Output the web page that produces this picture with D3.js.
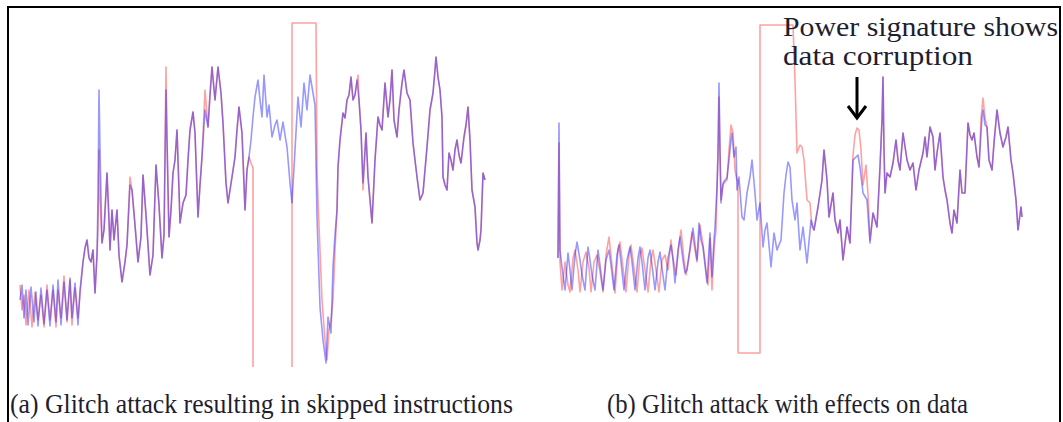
<!DOCTYPE html>
<html><head><meta charset="utf-8">
<script src="https://cdn.jsdelivr.net/npm/d3@7"></script>
<style>body{margin:0;background:#fff}svg{display:block}</style>
</head><body><svg id="c" width="1063" height="422"></svg>
<script>
// time (arbitrary sample units), power (arbitrary units)
const blueA = [[0,68],[2,83],[4,50],[6,78],[8,43],[11,81],[14,46],[16,76],[18,42],[21,80],[24,44],[27,78],[30,42],[33,83],[36,46],[38,88],[41,43],[44,86],[47,48],[50,90],[52,50],[55,85],[58,43],[60,78],[63,106],[65,120],[67,128],[69,110],[71,106],[73,118],[75,75],[77,113],[78,168],[79,278],[80,218],[82,125],[84,138],[87,195],[89,148],[90,118],[92,158],[94,128],[97,158],[99,113],[102,86],[105,106],[107,123],[110,183],[112,178],[115,143],[118,106],[121,131],[123,193],[126,153],[128,123],[130,93],[133,113],[136,203],[139,163],[142,110],[144,133],[146,278],[147,228],[149,131],[151,158],[153,195],[155,208],[157,238],[159,178],[160,145],[163,165],[166,173],[168,208],[170,238],[173,256],[175,235],[178,151],[180,183],[182,211],[185,258],[188,241],[190,273],[192,301],[195,268],[198,301],[201,275],[203,245],[206,185],[208,165],[210,178],[212,191],[215,211],[217,238],[219,261],[222,235],[225,158],[227,198],[229,211],[231,228],[233,251],[235,271],[238,288],[240,268],[242,251],[244,293],[247,251],[249,263],[252,231],[255,243],[257,248],[260,228],[263,246],[265,233],[267,221],[270,185],[272,165],[275,218],[278,271],[281,241],[284,285],[287,258],[290,293],[293,275],[295,263],[297,151],[300,61],[303,28],[306,5],[308,51],[311,35],[313,101],[315,133],[317,158],[318,201],[320,228],[323,255],[325,250],[327,268],[329,273],[331,291],[333,268],[335,273],[337,288],[339,268],[341,238],[343,185],[346,235],[348,191],[350,168],[352,145],[355,208],[358,251],[360,243],[362,238],[365,285],[368,251],[370,268],[372,298],[374,248],[377,231],[379,258],[382,285],[384,298],[387,275],[390,268],[393,225],[395,208],[397,191],[400,168],[403,175],[405,198],[407,221],[410,258],[413,275],[415,298],[416,311],[418,291],[420,278],[422,251],[423,191],[425,183],[427,178],[429,215],[431,208],[433,198],[435,218],[437,228],[439,213],[441,205],[444,231],[446,243],[448,261],[450,228],[452,178],[455,161],[457,125],[458,118],[460,128],[461,138],[463,195],[465,188]];

const redA = [[0,83],[2,58],[4,73],[6,43],[9,78],[12,41],[15,76],[18,48],[21,73],[24,41],[27,83],[30,48],[33,78],[36,41],[38,78],[41,50],[44,92],[47,46],[50,88],[52,43],[55,80],[58,50],[60,73],[63,106],[65,120],[67,128],[69,110],[71,106],[73,118],[75,75],[77,113],[78,138],[79,218],[80,168],[82,125],[84,138],[87,195],[89,148],[90,118],[92,158],[94,128],[97,158],[99,113],[102,86],[105,106],[107,123],[110,191],[112,178],[115,143],[118,106],[121,131],[123,193],[126,153],[128,123],[130,93],[133,113],[136,203],[139,163],[142,110],[144,133],[146,301],[147,228],[149,131],[151,158],[153,195],[155,208],[157,238],[159,178],[160,145],[163,165],[166,173],[168,208],[170,238],[173,256],[175,235],[178,151],[180,183],[182,211],[185,278],[188,241],[190,273],[192,301],[195,268],[198,301],[201,275],[203,245],[206,185],[208,165],[210,178],[212,191],[215,211],[217,238],[219,261],[222,235],[225,158],[227,198],[229,211],[231,205],[233,200],[233,-10],[272,-10],[272,345],[296,345],[297,200],[298,168],[300,118],[302,68],[305,28],[307,8],[309,38],[311,48],[313,68],[315,118],[317,158],[318,201],[320,228],[323,255],[325,250],[327,268],[329,273],[331,291],[333,268],[335,273],[338,293],[339,268],[341,238],[343,178],[346,235],[348,191],[350,168],[352,145],[355,208],[358,251],[360,243],[362,238],[365,285],[368,251],[370,268],[372,298],[374,248],[377,231],[379,258],[382,285],[384,298],[387,275],[390,268],[393,225],[395,208],[397,191],[400,168],[403,175],[405,198],[407,221],[410,258],[413,275],[415,298],[416,311],[418,291],[420,278],[422,251],[423,191],[425,183],[427,178],[429,215],[431,208],[433,198],[435,218],[437,228],[439,213],[441,205],[444,231],[446,243],[448,261],[450,228],[452,178],[455,161],[457,125],[458,118],[460,128],[461,138],[463,195],[465,188]];

const blueB = [[0,96],[1,231],[2,104],[4,87],[7,64],[10,101],[12,84],[14,64],[17,99],[19,112],[22,94],[24,79],[27,64],[30,107],[32,94],[34,79],[37,64],[40,104],[42,89],[45,64],[48,94],[51,104],[53,89],[56,64],[59,99],[61,109],[63,92],[66,64],[69,94],[72,107],[74,92],[77,64],[80,96],[82,107],[84,92],[87,64],[90,96],[92,104],[94,89],[97,64],[100,92],[102,102],[104,86],[107,64],[110,96],[113,109],[115,94],[117,71],[120,104],[122,117],[125,94],[127,81],[129,84],[132,104],[135,126],[137,109],[139,94],[141,131],[143,114],[145,107],[147,89],[149,71],[151,104],[152,121],[154,77],[156,114],[157,127],[159,167],[160,204],[161,271],[162,204],[163,151],[165,171],[167,174],[169,176],[171,194],[173,214],[174,221],[176,197],[178,207],[179,164],[181,177],[184,137],[186,134],[189,161],[192,177],[194,194],[197,161],[199,134],[202,151],[205,107],[207,124],[209,131],[211,109],[213,87],[216,121],[219,104],[223,114],[226,161],[228,179],[230,192],[232,187],[234,154],[237,134],[239,151],[242,104],[245,127],[249,91],[253,134],[256,124],[260,147],[264,174],[266,204],[269,174],[271,137],[275,161],[277,134],[280,121],[282,134],[285,94],[289,127],[292,111],[295,194],[298,197],[300,199],[302,187],[305,161],[309,154],[312,111],[315,141],[319,127],[322,187],[324,234],[325,277],[326,204],[327,161],[329,181],[332,177],[335,191],[338,214],[340,194],[342,184],[345,221],[349,194],[352,184],[355,191],[358,164],[361,184],[365,201],[367,217],[369,197],[372,227],[375,217],[377,184],[379,201],[382,221],[385,177],[387,164],[389,154],[392,131],[394,121],[396,144],[399,131],[402,184],[404,161],[407,161],[410,231],[412,219],[414,214],[416,221],[419,197],[421,187],[424,237],[425,244],[427,229],[429,227],[431,194],[434,184],[436,211],[439,244],[442,221],[445,207],[448,217],[450,227],[453,194],[455,181],[458,154],[460,124],[463,147],[464,137]];

const redB = [[0,96],[1,211],[2,92],[4,64],[7,92],[10,69],[12,62],[15,96],[17,104],[20,84],[22,62],[25,92],[28,102],[31,86],[33,62],[36,92],[39,99],[42,82],[45,62],[48,99],[51,117],[54,89],[57,61],[60,104],[62,112],[65,86],[68,62],[71,99],[73,109],[76,86],[79,62],[82,99],[84,106],[87,84],[90,62],[93,94],[95,104],[98,84],[101,62],[104,94],[107,99],[110,84],[113,114],[115,96],[118,79],[121,109],[123,124],[126,94],[128,79],[131,99],[134,122],[137,104],[139,92],[142,129],[145,109],[148,84],[150,69],[152,116],[154,64],[156,104],[158,124],[159,164],[160,194],[161,257],[162,199],[163,154],[165,169],[167,172],[169,174],[171,204],[173,229],[175,221],[177,184],[179,174],[180,174],[180,1],[202,1],[202,329],[235,329],[237,274],[239,201],[242,209],[244,207],[246,194],[249,154],[252,151],[254,127],[256,124],[260,147],[264,174],[266,204],[269,174],[271,137],[275,161],[277,134],[280,121],[282,134],[285,94],[289,127],[292,111],[295,199],[297,219],[299,226],[301,224],[303,204],[305,169],[308,189],[310,159],[312,114],[315,141],[319,127],[322,187],[324,234],[325,277],[326,204],[327,161],[329,181],[332,177],[335,191],[338,214],[340,194],[342,184],[345,221],[349,194],[352,184],[355,191],[358,164],[361,184],[365,201],[367,217],[369,197],[372,227],[375,217],[377,184],[379,201],[382,221],[385,177],[387,164],[389,154],[392,131],[394,121],[396,144],[399,131],[402,184],[404,161],[407,161],[410,231],[412,219],[414,214],[416,221],[419,197],[421,187],[423,235],[425,256],[427,236],[429,227],[431,194],[434,184],[436,211],[439,244],[442,221],[445,207],[448,217],[450,227],[453,194],[455,181],[458,154],[460,124],[463,147],[464,137]];

const captions = ["(a) Glitch attack resulting in skipped instructions", "(b) Glitch attack with effects on data"];
const annotation = ["Power signature shows", "data corruption"];
const corruptionTime = 299;

const svg = d3.select("#c");
const xA = d3.scaleLinear().domain([0,465]).range([20,485]);
const yA = d3.scaleLinear().domain([0,345]).range([368,23]);
const xB = d3.scaleLinear().domain([0,464]).range([558,1022]);
const yB = d3.scaleLinear().domain([0,330]).range([354,24]);

const defs = svg.append("defs");
defs.append("clipPath").attr("id","clipA").append("rect").attr("x",10).attr("y",10).attr("width",520).attr("height",357);
defs.append("clipPath").attr("id","clipB").append("rect").attr("x",540).attr("y",10).attr("width",515).attr("height",350);

function draw(clip, x, y, red, blue){
  const g = svg.append("g").attr("clip-path", `url(#${clip})`);
  const line = d3.line().x(d=>x(d[0])).y(d=>y(d[1]));
  g.append("path").datum(red).attr("d", line).attr("fill","none")
    .attr("stroke","#ff2020").attr("stroke-opacity",0.42).attr("stroke-width",1.6).attr("stroke-linejoin","round");
  g.append("path").datum(blue).attr("d", line).attr("fill","none")
    .attr("stroke","#1a1aff").attr("stroke-opacity",0.45).attr("stroke-width",1.6).attr("stroke-linejoin","round");
}
draw("clipA", xA, yA, redA, blueA);
draw("clipB", xB, yB, redB, blueB);

// frame
svg.append("path").attr("d","M8,422 L8,7 L1060,7 L1060,422").attr("fill","none").attr("stroke","#000").attr("stroke-width",2);

const serif = "'Liberation Serif', 'DejaVu Serif', serif";
svg.append("text").attr("x",10).attr("y",413).attr("font-family",serif).attr("font-size",28)
  .attr("fill","#1e1e30").attr("textLength",503).attr("lengthAdjust","spacingAndGlyphs").text(captions[0]);
svg.append("text").attr("x",607).attr("y",413).attr("font-family",serif).attr("font-size",28)
  .attr("fill","#1e1e30").attr("textLength",361).attr("lengthAdjust","spacingAndGlyphs").text(captions[1]);

svg.append("text").attr("x",783).attr("y",36).attr("font-family",serif).attr("font-size",28)
  .attr("fill","#1e1e30").attr("textLength",275).attr("lengthAdjust","spacingAndGlyphs").text(annotation[0]);
svg.append("text").attr("x",783).attr("y",65).attr("font-family",serif).attr("font-size",28)
  .attr("fill","#1e1e30").attr("textLength",190).attr("lengthAdjust","spacingAndGlyphs").text(annotation[1]);

// arrow pointing at corrupted peak
const ax = xB(corruptionTime);
const peak = redB.find(d=>d[0]===corruptionTime)[1];
const tipY = yB(peak) - 10;
svg.append("line").attr("x1",ax).attr("x2",ax).attr("y1",77).attr("y2",tipY).attr("stroke","#000").attr("stroke-width",3);
svg.append("path").attr("d",`M${ax-9},${tipY-12} L${ax},${tipY} L${ax+9},${tipY-12}`).attr("fill","none").attr("stroke","#000").attr("stroke-width",3);
</script></body></html>
